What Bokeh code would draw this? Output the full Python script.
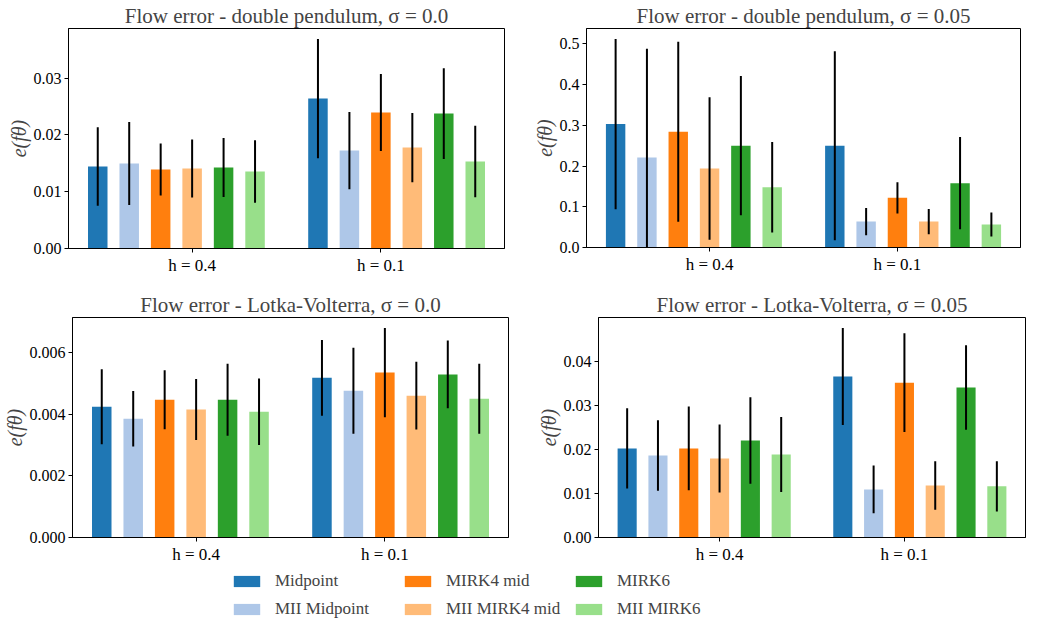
from bokeh.plotting import figure
from bokeh.models import Range1d, FixedTicker, PrintfTickFormatter, Legend, LegendItem, ColumnDataSource
from bokeh.layouts import row, column
from bokeh.embed import file_html
from bokeh.resources import INLINE

methods = ["Midpoint", "MII Midpoint", "MIRK4 mid", "MII MIRK4 mid", "MIRK6", "MII MIRK6"]
colors = ["#1f77b4", "#aec7e8", "#ff7f0e", "#ffbb78", "#2ca02c", "#98df8a"]
step_labels = ["h = 0.4", "h = 0.1"]

# Double pendulum, sigma = 0.0
dp0_mean_h04 = [0.01445, 0.01497, 0.01392, 0.01409, 0.01427, 0.01356]
dp0_std_h04 = [0.0069, 0.0073, 0.0046, 0.0051, 0.0052, 0.0055]
dp0_mean_h01 = [0.02642, 0.01726, 0.02396, 0.01779, 0.02378, 0.01533]
dp0_std_h01 = [0.0105, 0.0068, 0.0068, 0.0061, 0.0080, 0.0063]

# Double pendulum, sigma = 0.05
dp5_mean_h04 = [0.303, 0.221, 0.284, 0.194, 0.250, 0.148]
dp5_std_h04 = [0.209, 0.267, 0.221, 0.175, 0.171, 0.111]
dp5_mean_h01 = [0.250, 0.0637, 0.122, 0.0637, 0.158, 0.0565]
dp5_std_h01 = [0.232, 0.0335, 0.0383, 0.031, 0.113, 0.0295]

# Lotka-Volterra, sigma = 0.0
lv0_mean_h04 = [0.00425, 0.00386, 0.00448, 0.00416, 0.00448, 0.00409]
lv0_std_h04 = [0.00122, 0.00090, 0.00096, 0.00099, 0.00117, 0.00108]
lv0_mean_h01 = [0.00519, 0.00477, 0.00536, 0.00461, 0.00530, 0.00451]
lv0_std_h01 = [0.00123, 0.00140, 0.00145, 0.00110, 0.00110, 0.00114]

# Lotka-Volterra, sigma = 0.05
lv5_mean_h04 = [0.0202, 0.0186, 0.0202, 0.0179, 0.0220, 0.0188]
lv5_std_h04 = [0.0091, 0.0080, 0.0095, 0.0077, 0.0098, 0.0085]
lv5_mean_h01 = [0.0365, 0.0109, 0.0351, 0.0118, 0.0340, 0.0116]
lv5_std_h01 = [0.0110, 0.0054, 0.0112, 0.0055, 0.0096, 0.0057]

FONT = "'Liberation Serif'"


def make_panel(title, means, stds, yticks, fmt, fw, fh, mb):
    left, right, top, bottom = mb
    p = figure(frame_width=fw, frame_height=fh, output_backend="svg", toolbar_location=None,
               min_border_left=left, min_border_right=right, min_border_top=top,
               min_border_bottom=bottom, title=title)
    n = len(methods)
    tops = [m + s for m_list, s_list in zip(means, stds) for m, s in zip(m_list, s_list)]
    ymax = 1.05 * max(tops)
    p.x_range = Range1d(-0.93, 2 * n + 0.93)
    p.y_range = Range1d(0, ymax)
    for i in range(n):
        xs = [g * (n + 1) + i for g in range(len(means))]
        ms = [means[g][i] for g in range(len(means))]
        ss = [stds[g][i] for g in range(len(means))]
        src = ColumnDataSource(dict(x=xs, top=ms, up=[a + b for a, b in zip(ms, ss)],
                                    lo=[a - b for a, b in zip(ms, ss)]))
        p.vbar(x="x", top="top", bottom=0, width=0.62, source=src,
               fill_color=colors[i], line_color=None)
        p.segment(x0="x", y0="lo", x1="x", y1="up", source=src, line_color="black", line_width=2)
    p.title.text_font = FONT
    p.title.text_font_size = "21px"
    p.title.text_font_style = "normal"
    p.title.align = "center"
    p.title.standoff = 2
    p.title.offset = 0
    p.outline_line_color = "black"
    p.outline_line_width = 1
    p.xgrid.visible = False
    p.ygrid.visible = False
    p.xaxis.ticker = FixedTicker(ticks=[3, 9])
    p.xaxis.major_label_overrides = {3: step_labels[0], 9: step_labels[1]}
    p.yaxis.ticker = FixedTicker(ticks=yticks)
    p.yaxis.formatter = PrintfTickFormatter(format=fmt)
    p.yaxis.axis_label = "e(fθ)"
    p.yaxis.axis_label_text_font = FONT
    p.yaxis.axis_label_text_font_size = "20px"
    p.yaxis.axis_label_text_font_style = "italic"
    p.yaxis.axis_label_standoff = 1
    for ax in (p.xaxis, p.yaxis):
        ax.major_label_text_font = FONT
        ax.major_label_text_font_size = "16px"
        ax.major_label_text_color = "black"
        ax.axis_line_color = "black"
        ax.major_tick_line_color = "black"
        ax.minor_tick_line_color = None
        ax.major_tick_in = 0
        ax.major_tick_out = 4
        ax.major_label_standoff = 3
    p.xaxis.major_label_text_font_size = "17px"
    return p


p1 = make_panel("Flow error - double pendulum, σ = 0.0", [dp0_mean_h04, dp0_mean_h01],
                [dp0_std_h04, dp0_std_h01], [0, 0.01, 0.02, 0.03], "%.2f", 436, 220, (68, 16, 21, 41))
p2 = make_panel("Flow error - double pendulum, σ = 0.05", [dp5_mean_h04, dp5_mean_h01],
                [dp5_std_h04, dp5_std_h01], [0, 0.1, 0.2, 0.3, 0.4, 0.5], "%.1f", 434, 219, (66, 1, 22, 41))
p3 = make_panel("Flow error - Lotka-Volterra, σ = 0.0", [lv0_mean_h04, lv0_mean_h01],
                [lv0_std_h04, lv0_std_h01], [0, 0.002, 0.004, 0.006], "%.3f", 436, 220, (67, 17, 27, 25))
p4 = make_panel("Flow error - Lotka-Volterra, σ = 0.05", [lv5_mean_h04, lv5_mean_h01],
                [lv5_std_h04, lv5_std_h01], [0, 0.01, 0.02, 0.03, 0.04], "%.2f", 427, 220, (73, 1, 26, 26))

# Legend figure (proxy renderers have zero-height bars, so nothing is visible)
leg = figure(width=1021, height=53, output_backend="svg", toolbar_location=None,
             x_axis_type=None, y_axis_type=None, min_border=0,
             x_range=Range1d(0, 1), y_range=Range1d(0, 1))
leg.outline_line_color = None
leg.xgrid.visible = False
leg.ygrid.visible = False
rends = []
for i in range(len(methods)):
    r = leg.vbar(x=[0.5], top=[0], bottom=[0], width=0.5, fill_color=colors[i], line_color=None)
    rends.append(r)
col_x = [230, 401, 572]
for c in range(3):
    items = [LegendItem(label=methods[2 * c + k], renderers=[rends[2 * c + k]]) for k in range(2)]
    lg = Legend(items=items, location=(col_x[c], 0), orientation="vertical",
                glyph_width=33, glyph_height=14, label_text_font=FONT,
                label_text_font_size="17px", label_standoff=12, spacing=8,
                padding=0, margin=0, border_line_color=None, background_fill_alpha=0)
    leg.add_layout(lg, "center")

layout = column(row(p1, p2), row(p3, p4), leg)
open("out.html", "w").write(file_html(layout, INLINE))
